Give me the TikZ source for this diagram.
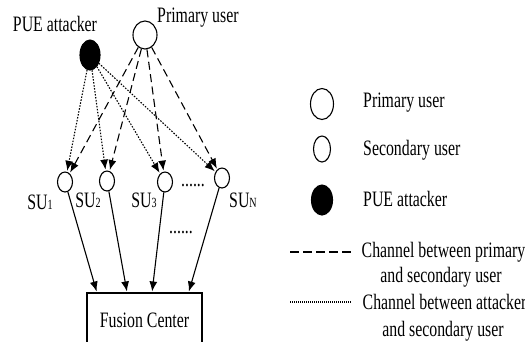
\documentclass[tikz,border=0pt]{standalone}
\usepackage{fontspec}
\setmainfont{Liberation Serif}
\usetikzlibrary{shapes.geometric,arrows.meta,calc}
% narrow (horizontally squeezed) text
\newcommand{\sq}[1]{\scalebox{0.72}[1]{#1}}
\newcommand{\sub}[1]{{\fontsize{14}{14}\selectfont #1}}
\begin{document}
\begin{tikzpicture}[x=1pt,y=-1pt,
  usr/.style={ellipse,draw,line width=1.1pt,inner sep=0pt},
  txt/.style={inner sep=0pt,font=\fontsize{22}{25}\selectfont},
  arr/.style={-{Latex[length=10pt,width=8pt]},line width=1.1pt,shorten >=1pt},
  pdash/.style={arr,dash pattern=on 8pt off 4.5pt},
  adot/.style={arr,dash pattern=on 1.5pt off 1.5pt},
]
\useasboundingbox (0,0) rectangle (525,341);
\clip (0,0) rectangle (525,341);

% users
\node[usr,fill=black,minimum width=20pt,minimum height=30pt] (att) at (90,55) {};
\node[usr,minimum width=24pt,minimum height=28pt] (pu) at (145,35) {};
\node[usr,minimum width=15pt,minimum height=20pt] (su1) at (65,182) {};
\node[usr,minimum width=15pt,minimum height=20pt] (su2) at (107,181) {};
\node[usr,minimum width=15pt,minimum height=20pt] (su3) at (165,182) {};
\node[usr,minimum width=15pt,minimum height=20pt] (suN) at (222,178) {};

\node[txt] (lblatt) at (55,24) {\sq{PUE attacker}};
\node[txt,anchor=west] (lblpu) at (157,18) {\sq{Primary user}};
\node[txt] (lbl1) at (40,202) {\sq{SU\sub{1}}};
\node[txt] (lbl2) at (88,200) {\sq{SU\sub{2}}};
\node[txt] (lbl3) at (144,200) {\sq{SU\sub{3}}};
\node[txt] (lblN) at (243,200) {\sq{SU\sub{N}}};
\node[txt] (dots1) at (193,186) {\sq{......}};
\node[txt] (dots2) at (181,233) {\sq{......}};

% fusion center (lower edge runs off the page)
\node[draw,line width=1.1pt,minimum width=115pt,minimum height=54pt,txt] (fc) at (144.5,320) {\sq{Fusion Center}};

% primary user -> secondary users
\foreach \s in {su1,su2,su3,suN}
  \draw[pdash] (pu) -- (\s);
% attacker -> secondary users
\foreach \s in {su1,su2,su3,suN}
  \draw[adot] (att) -- (\s);

% secondary users -> fusion center
\draw[arr] (su1) -- ($(fc.north west)!0.09!(fc.north east)$);
\draw[arr] (su2) -- ($(fc.north west)!0.35!(fc.north east)$);
\draw[arr] (su3) -- ($(fc.north west)!0.565!(fc.north east)$);
\draw[arr] (suN) -- ($(fc.north west)!0.88!(fc.north east)$);

% legend
\node[usr,minimum width=23pt,minimum height=31pt] (lgpu) at (322,104) {};
\node[usr,minimum width=17pt,minimum height=26pt] (lgsu) at (322,149) {};
\node[usr,fill=black,minimum width=21pt,minimum height=30pt] (lgatt) at (322,200) {};
\node[txt,anchor=west] (tpu) at (363,103) {\sq{Primary user}};
\node[txt,anchor=west] (tsu) at (363,150) {\sq{Secondary user}};
\node[txt,anchor=west] (tatt) at (363,199) {\sq{PUE attacker}};

\coordinate (da) at (290,252);
\coordinate (db) at (352,252);
\draw[line width=1.3pt,dash pattern=on 8.5pt off 4.5pt] (da) -- (db);
\node[txt] (tch1a) at (443.5,252) {\sq{Channel between primary}};
\node[txt] (tch1b) at (441,277) {\sq{and secondary user}};

\coordinate (oa) at (290,302);
\coordinate (ob) at (352,302);
\draw[line width=1.3pt,dash pattern=on 1pt off 1pt] (oa) -- (ob);
\node[txt] (tch2a) at (444.5,302) {\sq{Channel between attacker}};
\node[txt] (tch2b) at (443,331) {\sq{and secondary user}};
\end{tikzpicture}
\end{document}
